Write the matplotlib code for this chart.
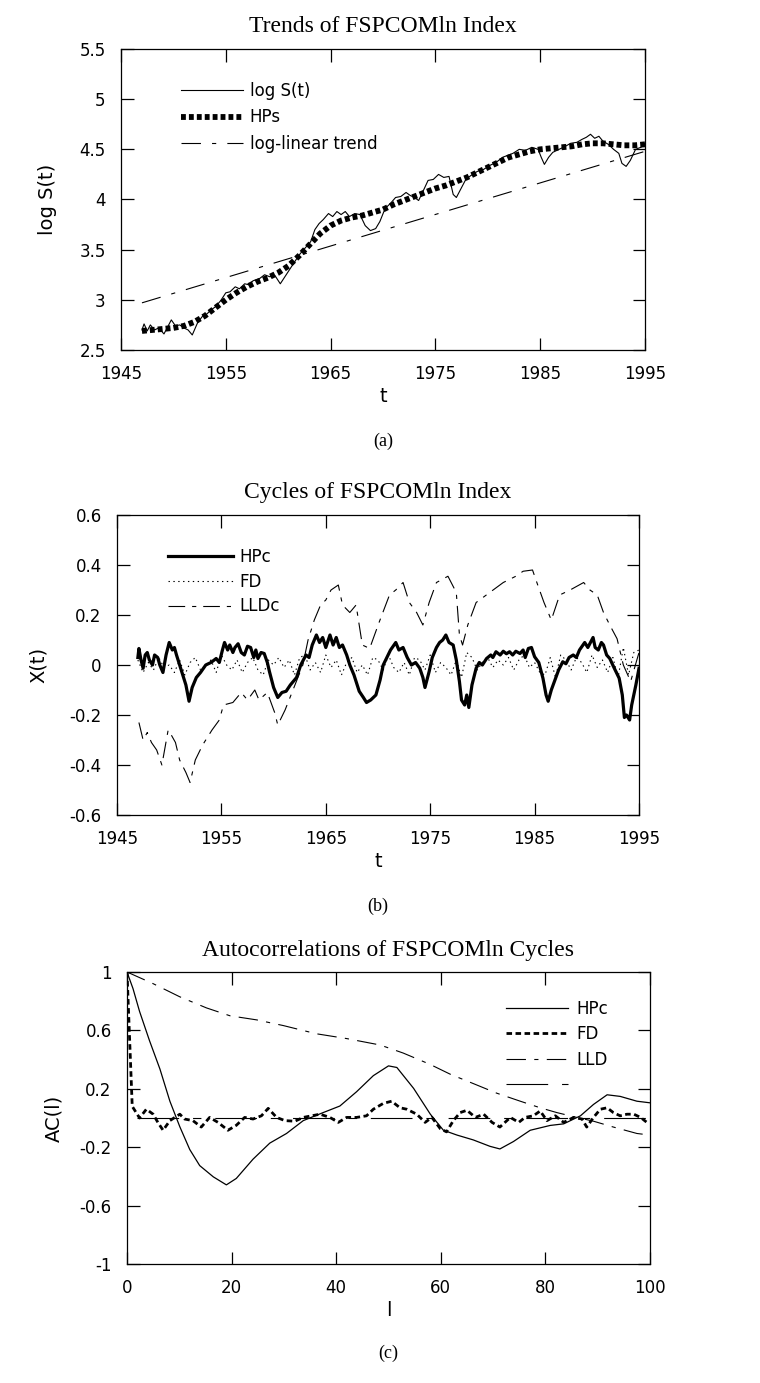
import numpy as np
import matplotlib
matplotlib.use('Agg')
import matplotlib.pyplot as plt

plt.rcParams['font.family'] = 'DejaVu Sans'
plt.rcParams['axes.unicode_minus'] = False
plt.rcParams['lines.scale_dashes'] = False

# ---- (a) trends ----
logs_year = [1947.0, 1947.2, 1947.5, 1947.8, 1948.2, 1948.6, 1949.1, 1949.5, 1949.8, 1950.2,
             1950.6, 1951.0, 1951.4, 1951.8, 1952.3, 1952.8, 1953.2, 1953.6, 1954.0, 1954.5,
             1955.0, 1955.4, 1955.9, 1956.3, 1956.8, 1957.2, 1957.6, 1958.2, 1958.7, 1959.2,
             1959.7, 1960.2, 1960.7, 1961.2, 1961.7, 1962.1, 1962.6, 1963.1, 1963.5, 1963.9,
             1964.3, 1964.8, 1965.2, 1965.6, 1966.0, 1966.4, 1966.8, 1967.3, 1967.8, 1968.3,
             1968.8, 1969.3, 1969.7, 1970.2, 1970.7, 1971.2, 1971.7, 1972.2, 1972.6, 1973.0,
             1973.4, 1973.9, 1974.3, 1974.8, 1975.3, 1975.8, 1976.3, 1976.7, 1977.0, 1977.4,
             1977.9, 1978.4, 1979.0, 1979.6, 1980.2, 1980.8, 1981.4, 1981.9, 1982.4, 1983.0,
             1983.6, 1984.2, 1984.8, 1985.1, 1985.4, 1985.8, 1986.2, 1986.8, 1987.4, 1987.9,
             1988.5, 1989.0, 1989.4, 1989.8, 1990.2, 1990.6, 1991.0, 1991.5, 1992.0, 1992.5,
             1992.8, 1993.2, 1993.6, 1994.1, 1994.6, 1995.0]
logs_val = [2.70, 2.76, 2.69, 2.75, 2.70, 2.72, 2.66, 2.74, 2.80, 2.74,
            2.75, 2.72, 2.70, 2.65, 2.77, 2.84, 2.86, 2.90, 2.93, 2.99,
            3.07, 3.08, 3.13, 3.11, 3.16, 3.15, 3.19, 3.21, 3.25, 3.23,
            3.24, 3.16, 3.24, 3.32, 3.40, 3.46, 3.52, 3.58, 3.70, 3.76,
            3.80, 3.86, 3.83, 3.88, 3.85, 3.88, 3.83, 3.86, 3.85, 3.74,
            3.69, 3.71, 3.78, 3.91, 3.96, 4.02, 4.03, 4.07, 4.04, 4.02,
            3.99, 4.10, 4.19, 4.20, 4.25, 4.22, 4.23, 4.05, 4.02, 4.10,
            4.20, 4.24, 4.28, 4.30, 4.34, 4.37, 4.42, 4.44, 4.46, 4.50,
            4.49, 4.52, 4.50, 4.42, 4.35, 4.42, 4.47, 4.50, 4.53, 4.56,
            4.57, 4.60, 4.62, 4.65, 4.61, 4.63, 4.58, 4.55, 4.50, 4.46,
            4.36, 4.33, 4.39, 4.50, 4.52, 4.56]

hps_year = list(range(1947, 1996))
hps_val = [2.69, 2.70, 2.71, 2.72, 2.74, 2.78, 2.84, 2.92, 3.00, 3.07,
           3.13, 3.18, 3.22, 3.27, 3.34, 3.44, 3.55, 3.66, 3.74, 3.79,
           3.82, 3.84, 3.87, 3.90, 3.95, 3.99, 4.03, 4.07, 4.11, 4.14,
           4.18, 4.22, 4.27, 4.32, 4.37, 4.42, 4.45, 4.48, 4.50, 4.51,
           4.52, 4.53, 4.55, 4.56, 4.56, 4.55, 4.54, 4.54, 4.55]

trend_year = [1947, 1995]
trend_val = [2.97, 4.48]

# ---- (b) cycles ----
hpc_year = [1947.0, 1947.1, 1947.3, 1947.5, 1947.7, 1947.9, 1948.1, 1948.4, 1948.6, 1948.9,
            1949.1, 1949.4, 1949.7, 1950.0, 1950.3, 1950.5, 1950.7, 1951.0, 1951.3, 1951.6,
            1951.9, 1952.2, 1952.6, 1953.0, 1953.5, 1954.0, 1954.5, 1954.8, 1955.1, 1955.3,
            1955.6, 1955.8, 1956.1, 1956.3, 1956.6, 1956.9, 1957.2, 1957.5, 1957.8, 1958.1,
            1958.3, 1958.5, 1958.8, 1959.1, 1959.4, 1959.6, 1960.0, 1960.4, 1960.8, 1961.2,
            1961.6, 1962.2, 1962.6, 1963.1, 1963.4, 1963.7, 1964.1, 1964.4, 1964.7, 1965.0,
            1965.4, 1965.7, 1966.0, 1966.3, 1966.6, 1967.0, 1967.3, 1967.7, 1968.2, 1968.6,
            1968.9, 1969.3, 1969.8, 1970.2, 1970.5, 1970.8, 1971.2, 1971.7, 1972.0, 1972.4,
            1972.8, 1973.2, 1973.6, 1974.0, 1974.3, 1974.5, 1974.9, 1975.2, 1975.6, 1975.9,
            1976.2, 1976.5, 1976.8, 1977.2, 1977.5, 1977.8, 1978.0, 1978.3, 1978.5, 1978.7,
            1979.0, 1979.4, 1979.7, 1980.0, 1980.4, 1980.8, 1981.0, 1981.3, 1981.7, 1982.0,
            1982.3, 1982.6, 1982.9, 1983.2, 1983.6, 1983.9, 1984.1, 1984.4, 1984.7, 1985.0,
            1985.4, 1985.8, 1986.1, 1986.3, 1986.6, 1986.9, 1987.3, 1987.7, 1988.0, 1988.3,
            1988.7, 1989.0, 1989.3, 1989.8, 1990.1, 1990.6, 1990.8, 1991.1, 1991.4, 1991.6,
            1991.9, 1992.2, 1992.6, 1993.1, 1993.4, 1993.6, 1993.8, 1994.1, 1994.3, 1994.7,
            1995.0]
hpc_val = [0.03, 0.066, 0.02, -0.013, 0.04, 0.05, 0.02, 0.0, 0.04, 0.03,
           0.0, -0.03, 0.04, 0.09, 0.06, 0.07, 0.04, 0.0, -0.04, -0.08,
           -0.145, -0.09, -0.05, -0.03, 0.0, 0.01, 0.026, 0.01, 0.06, 0.09,
           0.06, 0.08, 0.05, 0.07, 0.085, 0.05, 0.04, 0.075, 0.07, 0.03,
           0.06, 0.026, 0.05, 0.046, 0.01, -0.026, -0.09, -0.13, -0.11, -0.105,
           -0.08, -0.05, 0.0, 0.04, 0.03, 0.08, 0.12, 0.09, 0.11, 0.07,
           0.12, 0.08, 0.11, 0.07, 0.08, 0.04, 0.0, -0.04, -0.105, -0.13,
           -0.15, -0.14, -0.12, -0.06, 0.0, 0.026, 0.06, 0.09, 0.06, 0.07,
           0.03, 0.0, 0.01, -0.013, -0.05, -0.09, -0.026, 0.03, 0.07, 0.09,
           0.10, 0.12, 0.09, 0.08, 0.02, -0.066, -0.14, -0.16, -0.12, -0.17,
           -0.08, -0.013, 0.01, 0.0, 0.026, 0.04, 0.03, 0.053, 0.04, 0.055,
           0.045, 0.053, 0.04, 0.055, 0.046, 0.06, 0.03, 0.066, 0.07, 0.033,
           0.01, -0.053, -0.12, -0.145, -0.10, -0.066, -0.02, 0.013, 0.005, 0.03,
           0.04, 0.03, 0.06, 0.09, 0.07, 0.11, 0.07, 0.06, 0.09, 0.08,
           0.04, 0.026, -0.01, -0.053, -0.12, -0.21, -0.20, -0.22, -0.16, -0.08,
           -0.013]

fd_year = np.arange(1947.0, 1995.5, 0.5)
fd_val = [0.02, -0.03, 0.01, -0.02, 0.03, -0.01, 0.00, -0.03, 0.02, -0.04,
          0.01, 0.03, -0.02, 0.00, 0.02, -0.03, 0.04, 0.00, -0.02, 0.02,
          -0.03, 0.01, 0.03, -0.02, -0.04, 0.02, 0.00, 0.03, -0.01, 0.02,
          -0.04, 0.03, 0.04, -0.02, 0.01, -0.03, 0.04, -0.01, 0.02, -0.04,
          0.01, 0.03, -0.03, 0.00, -0.04, 0.03, 0.02, -0.02, 0.04, -0.01,
          -0.03, 0.01, -0.04, 0.03, 0.02, -0.02, 0.04, -0.03, 0.01, -0.01,
          -0.04, 0.02, -0.05, 0.05, 0.03, -0.02, 0.01, 0.03, -0.01, 0.02,
          0.00, 0.03, -0.02, 0.02, 0.04, -0.01, 0.01, -0.03, -0.04, 0.03,
          -0.05, 0.04, 0.02, -0.02, 0.03, 0.01, -0.03, 0.04, -0.01, 0.02,
          -0.03, 0.03, -0.05, 0.07, -0.04, 0.05, 0.06]

lldc_year = [1947.1, 1947.5, 1947.9, 1948.3, 1948.8, 1949.3, 1949.9, 1950.2, 1950.6, 1951.0,
             1951.6, 1952.0, 1952.5, 1953.2, 1954.1, 1954.8, 1955.2, 1956.1, 1956.9, 1957.5,
             1958.2, 1958.6, 1959.4, 1960.1, 1960.4, 1961.1, 1962.8, 1963.3, 1963.9, 1964.5,
             1965.0, 1965.5, 1966.2, 1966.6, 1967.3, 1967.9, 1968.5, 1969.2, 1970.1, 1971.1,
             1971.7, 1972.4, 1973.0, 1973.7, 1974.3, 1974.9, 1975.6, 1976.7, 1977.5, 1977.8,
             1978.1, 1978.6, 1979.4, 1980.7, 1982.0, 1983.2, 1983.9, 1984.8, 1985.3, 1985.9,
             1986.6, 1987.4, 1988.4, 1989.7, 1990.3, 1991.0, 1991.6, 1992.2, 1992.9, 1993.5,
             1994.2, 1995.0]
lldc_val = [-0.23, -0.30, -0.27, -0.31, -0.34, -0.40, -0.26, -0.28, -0.31, -0.38,
            -0.43, -0.47, -0.38, -0.32, -0.26, -0.22, -0.16, -0.15, -0.11, -0.14,
            -0.10, -0.14, -0.11, -0.19, -0.24, -0.18, 0.0, 0.10, 0.18, 0.24,
            0.26, 0.30, 0.32, 0.24, 0.21, 0.24, 0.08, 0.066, 0.17, 0.28,
            0.30, 0.33, 0.25, 0.21, 0.16, 0.25, 0.33, 0.355, 0.29, 0.12,
            0.08, 0.16, 0.25, 0.29, 0.33, 0.355, 0.375, 0.38, 0.32, 0.25,
            0.18, 0.28, 0.30, 0.33, 0.30, 0.28, 0.21, 0.16, 0.105, 0.0,
            -0.066, 0.05]

# ---- (c) autocorrelations ----
ac_hpc_lag = [0, 1.15, 2.4, 4.3, 6.3, 8.2, 10.1, 12.0, 13.9, 16.5, 19.0, 20.9, 24.1, 27.3, 30.5,
              33.7, 37.5, 40.7, 43.9, 47.1, 50.0, 51.6, 54.8, 58.0, 60.5, 63.1, 66.2, 69.4,
              71.3, 73.9, 77.1, 80.9, 83.5, 86.7, 89.2, 91.8, 94.3, 97.5, 100]
ac_hpc_val = [1.0, 0.886, 0.73, 0.53, 0.335, 0.115, -0.06, -0.216, -0.326, -0.403, -0.458,
              -0.414, -0.282, -0.172, -0.106, -0.018, 0.037, 0.082, 0.18, 0.29, 0.357, 0.346,
              0.203, 0.026, -0.084, -0.117, -0.15, -0.194, -0.212, -0.161, -0.084, -0.051,
              -0.04, 0.015, 0.093, 0.159, 0.148, 0.115, 0.104]

ac_fd_lag = [0, 1, 2.4, 3.7, 5, 5.9, 6.9, 8.2, 10.1, 11, 12.6, 14.2, 15.8, 17.4, 19.3, 20.9,
             22.5, 24.1, 25.7, 27, 28.6, 30.2, 32.1, 33.7, 35.3, 36.9, 38.8, 40.4, 42, 43.9,
             45.8, 47.1, 49, 50.6, 52.2, 53.5, 55.4, 57, 58.3, 59.9, 61.1, 62.4, 63.7, 65,
             66.6, 68.2, 69.8, 71.3, 73.3, 74.9, 76.1, 77.7, 79, 80.3, 81.9, 83.5, 85.4, 87,
             87.9, 89.2, 90.5, 91.8, 93, 94.3, 95.6, 96.9, 98.2, 99.4]
ac_fd_val = [1.0, 0.08, 0.0, 0.06, 0.026, -0.03, -0.084, -0.018, 0.026, -0.007, -0.018, -0.062,
             0.004, -0.03, -0.084, -0.05, 0.004, -0.007, 0.015, 0.066, 0.004, -0.018, -0.022,
             0.004, 0.015, 0.026, 0.004, -0.03, 0.004, 0.004, 0.015, 0.06, 0.10, 0.115, 0.07,
             0.06, 0.026, -0.03, 0.004, -0.073, -0.095, -0.018, 0.037, 0.053, 0.004, 0.026,
             -0.03, -0.062, 0.004, -0.03, 0.004, 0.015, 0.048, -0.018, 0.015, -0.03, 0.004,
             -0.007, -0.062, 0.004, 0.06, 0.07, 0.037, 0.015, 0.026, 0.026, 0.004, -0.03]

ac_lld_lag = [0, 5, 10.1, 15.2, 19.7, 24.8, 29.9, 36.2, 42, 48.4, 52.8, 57.9, 61.8, 66.2, 70.7,
              75.2, 79, 82.2, 85.4, 89.2, 93, 97.5, 100]
ac_lld_val = [1.0, 0.92, 0.83, 0.754, 0.70, 0.672, 0.633, 0.577, 0.544, 0.50, 0.445, 0.368, 0.30,
              0.236, 0.17, 0.115, 0.07, 0.037, 0.009, -0.022, -0.062, -0.106, -0.117]

zero_lag = [2, 100]
zero_val = [0, 0]

W, H = 760, 1383
fig = plt.figure(figsize=(W / 100, H / 100), dpi=100)


def make_ax(left, right, top, bottom):
    return fig.add_axes([left / W, 1 - bottom / H, (right - left) / W, (bottom - top) / H])


def style_ax(ax, title, xlab, ylab, cap, ylab_x):
    ax.tick_params(direction='in', length=9, width=0.9, top=True, right=True,
                   labelsize=12, pad=11)
    for s in ax.spines.values():
        s.set_linewidth(0.9)
    ax.text(0.5, 1.075, title, transform=ax.transAxes, ha='center', va='center',
            fontsize=17, family='Liberation Serif')
    ax.set_xlabel(xlab, fontsize=14, labelpad=3)
    ax.set_ylabel(ylab, fontsize=14)
    ax.yaxis.set_label_coords(ylab_x, 0.5)
    ax.yaxis.label.set_verticalalignment('center')
    ax.text(0.5, -0.305, cap, transform=ax.transAxes, ha='center', va='center',
            fontsize=13, family='Liberation Serif')


# (a)
ax = make_ax(121, 645, 49, 350)
ax.plot(logs_year, logs_val, color='black', lw=0.8, label='log S(t)')
ax.plot(hps_year, hps_val, color='black', lw=4.2, linestyle=(0, (3.5, 2.2)),
        dash_capstyle='butt', label='HPs')
ax.plot(trend_year, trend_val, color='black', lw=0.8, linestyle=(0, (14, 8, 3, 8)),
        label='log-linear trend')
ax.set_xlim(1945, 1995)
ax.set_ylim(2.5, 5.5)
ax.set_xticks([1945, 1955, 1965, 1975, 1985, 1995])
ax.set_yticks([2.5, 3, 3.5, 4, 4.5, 5, 5.5])
ax.set_yticklabels(['2.5', '3', '3.5', '4', '4.5', '5', '5.5'])
style_ax(ax, 'Trends of FSPCOMln Index', 't', 'log S(t)', '(a)', -0.14)
ax.legend(loc='upper left', bbox_to_anchor=(0.115, 0.89), frameon=False, fontsize=12,
          handlelength=3.7, handletextpad=0.4, labelspacing=0.5, borderpad=0,
          borderaxespad=0)

# (b)
ax = make_ax(117, 639, 515, 815)
ax.plot(hpc_year, hpc_val, color='black', lw=2.3, label='HPc')
ax.plot(fd_year, fd_val, color='black', lw=0.8, linestyle=(0, (1, 2.5)), label='FD')
ax.plot(lldc_year, lldc_val, color='black', lw=0.8, linestyle=(0, (12, 5, 3, 5)),
        label='LLDc')
ax.set_xlim(1945, 1995)
ax.set_ylim(-0.6, 0.6)
ax.set_xticks([1945, 1955, 1965, 1975, 1985, 1995])
ax.set_yticks([-0.6, -0.4, -0.2, 0, 0.2, 0.4, 0.6])
ax.set_yticklabels(['-0.6', '-0.4', '-0.2', '0', '0.2', '0.4', '0.6'])
style_ax(ax, 'Cycles of FSPCOMln Index', 't', 'X(t)', '(b)', -0.15)
ax.legend(loc='upper left', bbox_to_anchor=(0.098, 0.89), frameon=False, fontsize=12,
          handlelength=3.9, handletextpad=0.4, labelspacing=0.4, borderpad=0,
          borderaxespad=0)

# (c)
ax = make_ax(127, 650, 972, 1264)
ax.plot(ac_hpc_lag, ac_hpc_val, color='black', lw=0.9, label='HPc')
ax.plot(ac_fd_lag, ac_fd_val, color='black', lw=2.0, linestyle=(0, (4, 2.5)), label='FD')
ax.plot(ac_lld_lag, ac_lld_val, color='black', lw=0.8, linestyle=(0, (14, 6, 3, 6)),
        label='LLD')
ax.plot(zero_lag, zero_val, color='black', lw=0.8, linestyle=(0, (30, 10, 6, 10)), label=' ')
ax.set_xlim(0, 100)
ax.set_ylim(-1, 1)
ax.set_xticks([0, 20, 40, 60, 80, 100])
ax.set_yticks([-1, -0.6, -0.2, 0.2, 0.6, 1])
ax.set_yticklabels(['-1', '-0.6', '-0.2', '0.2', '0.6', '1'])
style_ax(ax, 'Autocorrelations of FSPCOMln Cycles', 'l', 'AC(l)', '(c)', -0.14)
ax.legend(loc='upper left', bbox_to_anchor=(0.725, 0.905), frameon=False, fontsize=12,
          handlelength=3.7, handletextpad=0.5, labelspacing=0.45, borderpad=0,
          borderaxespad=0)

fig.savefig('out.png', dpi=100)
